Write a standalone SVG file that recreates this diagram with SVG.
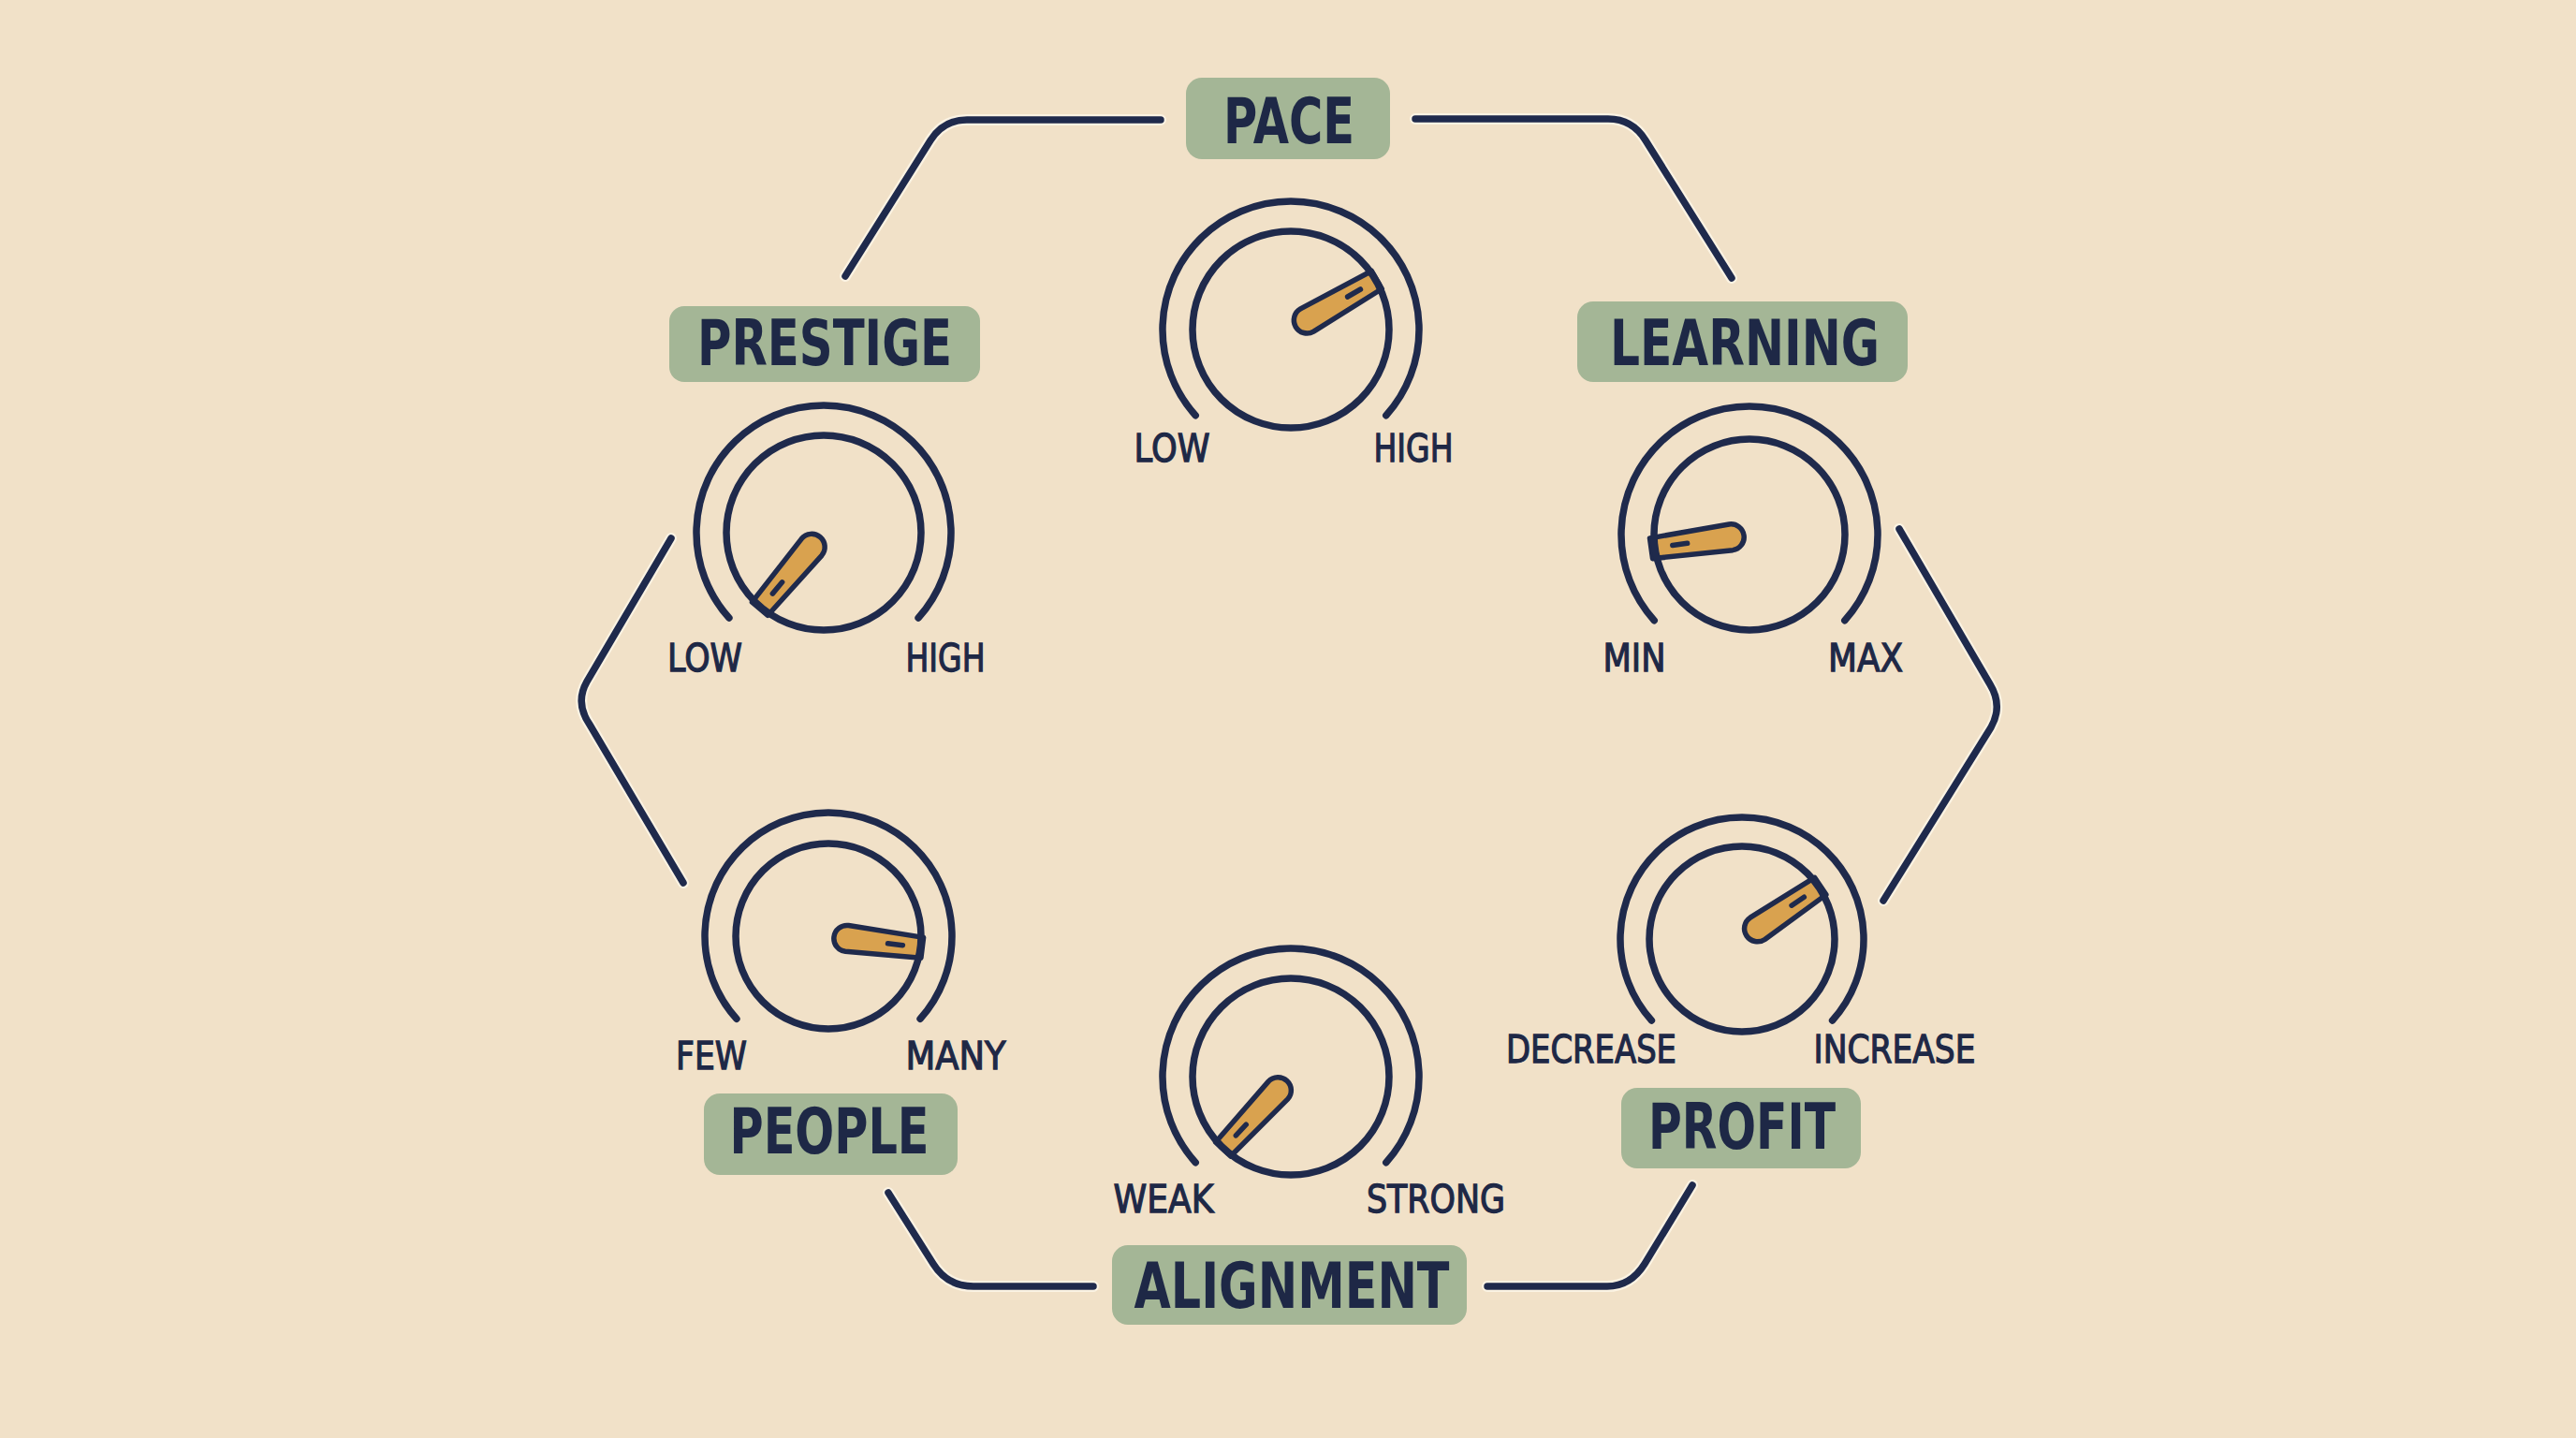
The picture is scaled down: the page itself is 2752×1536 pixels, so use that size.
<svg xmlns="http://www.w3.org/2000/svg" width="2752" height="1536" viewBox="0 0 2752 1536">
<style>
.bg{fill:#F1E1C8}
.ln{fill:none;stroke:#1F2A4C;stroke-width:7.5;stroke-linecap:round;stroke-linejoin:round}
.halo{fill:none;stroke:#FBF3E3;stroke-width:12;stroke-linecap:round;stroke-linejoin:round}
.ring{fill:none;stroke:#1F2A4C;stroke-width:7.5;stroke-linecap:round}
.ptr{fill:#D9A24F;stroke:#1F2A4C;stroke-width:5.5;stroke-linejoin:round}
.slot{stroke:#1F2A4C;stroke-width:5.5;stroke-linecap:round}
.tag{fill:#A4B696}
.big{font-family:"DejaVu Sans","Liberation Sans",sans-serif;font-weight:700;font-size:67px;fill:#1E2846;text-anchor:middle}
.sm{font-family:"DejaVu Sans","Liberation Sans",sans-serif;font-size:41px;fill:#1E2846;stroke:#1E2846;stroke-width:1.3;text-anchor:middle}
</style>
<defs>
<path id="p105" class="ptr" d="M20,-14 L106,-11 L106,11 L20,14 A14,14 0 0 1 20,-14 Z"/>
<path id="p100" class="ptr" d="M20,-14 L101,-11 L101,11 L20,14 A14,14 0 0 1 20,-14 Z"/>
</defs>
<rect class="bg" x="0" y="0" width="2752" height="1536"/>

<g id="connectors">
<path class="halo" d="M1240,128 L1033,128 Q1008,128 994,150 L903,295"/>
<path class="ln" d="M1240,128 L1033,128 Q1008,128 994,150 L903,295"/>
<path class="halo" d="M1512,127 L1718,127 Q1744,127 1758,150 L1850,297"/>
<path class="ln" d="M1512,127 L1718,127 Q1744,127 1758,150 L1850,297"/>
<path class="halo" d="M717,575 L627,728 Q614,751 630,774 L730,943"/>
<path class="ln" d="M717,575 L627,728 Q614,751 630,774 L730,943"/>
<path class="halo" d="M2029,565 L2126,731 Q2140,754 2127,777 L2012,962"/>
<path class="ln" d="M2029,565 L2126,731 Q2140,754 2127,777 L2012,962"/>
<path class="halo" d="M949,1274 L997,1350 Q1012,1374 1040,1374 L1168,1374"/>
<path class="ln" d="M949,1274 L997,1350 Q1012,1374 1040,1374 L1168,1374"/>
<path class="halo" d="M1589,1374 L1717,1374 Q1742,1374 1757,1350 L1808,1266"/>
<path class="ln" d="M1589,1374 L1717,1374 Q1742,1374 1757,1350 L1808,1266"/>
</g>

<g id="pace">
<rect class="tag" x="1267" y="83" width="218" height="87" rx="17"/>
<text class="big" x="1377" y="153" textLength="140" lengthAdjust="spacingAndGlyphs">PACE</text>
<g transform="translate(1379,352)">
<path class="ring" d="M-101.8,91.7 A137,137 0 1 1 101.8,91.7"/>
<g transform="rotate(-30)">
<use href="#p105"/>
<line class="slot" x1="70" y1="0" x2="86" y2="0"/>
</g>
<circle class="ring" cx="0" cy="0" r="105"/>
</g>
<text class="sm" x="1252" y="493" textLength="81" lengthAdjust="spacingAndGlyphs">LOW</text>
<text class="sm" x="1510" y="493" textLength="85" lengthAdjust="spacingAndGlyphs">HIGH</text>
</g>

<g id="prestige">
<rect class="tag" x="715" y="327" width="332" height="81" rx="16"/>
<text class="big" x="881" y="390" textLength="272" lengthAdjust="spacingAndGlyphs">PRESTIGE</text>
<g transform="translate(880,569)">
<path class="ring" d="M-101.1,91.0 A136,136 0 1 1 101.1,91.0"/>
<g transform="rotate(130)">
<use href="#p105"/>
<line class="slot" x1="69" y1="0" x2="85" y2="0"/>
</g>
<circle class="ring" cx="0" cy="0" r="104"/>
</g>
<text class="sm" x="753" y="717" textLength="80" lengthAdjust="spacingAndGlyphs">LOW</text>
<text class="sm" x="1010" y="717" textLength="85" lengthAdjust="spacingAndGlyphs">HIGH</text>
</g>

<g id="learning">
<rect class="tag" x="1685" y="322" width="353" height="86" rx="17"/>
<text class="big" x="1864" y="390" textLength="288" lengthAdjust="spacingAndGlyphs">LEARNING</text>
<g transform="translate(1869,571)">
<path class="ring" d="M-101.8,91.7 A137,137 0 1 1 101.8,91.7"/>
<g transform="rotate(172)">
<use href="#p105"/>
<line class="slot" x1="67" y1="0" x2="83" y2="0"/>
</g>
<circle class="ring" cx="0" cy="0" r="102"/>
</g>
<text class="sm" x="1746" y="717" textLength="67" lengthAdjust="spacingAndGlyphs">MIN</text>
<text class="sm" x="1993" y="717" textLength="80" lengthAdjust="spacingAndGlyphs">MAX</text>
</g>

<g id="people">
<g transform="translate(885,1000)">
<path class="ring" d="M-98.1,88.3 A132,132 0 1 1 98.1,88.3"/>
<g transform="rotate(7)">
<use href="#p100"/>
<line class="slot" x1="64" y1="0" x2="80" y2="0"/>
</g>
<circle class="ring" cx="0" cy="0" r="99"/>
</g>
<text class="sm" x="760" y="1142" textLength="76" lengthAdjust="spacingAndGlyphs">FEW</text>
<text class="sm" x="1021" y="1142" textLength="107" lengthAdjust="spacingAndGlyphs">MANY</text>
<rect class="tag" x="752" y="1168" width="271" height="87" rx="17"/>
<text class="big" x="886" y="1232" textLength="213" lengthAdjust="spacingAndGlyphs">PEOPLE</text>
</g>

<g id="profit">
<g transform="translate(1861,1003)">
<path class="ring" d="M-96.6,87.0 A130,130 0 1 1 96.6,87.0"/>
<g transform="rotate(-34)">
<use href="#p100"/>
<line class="slot" x1="64" y1="0" x2="80" y2="0"/>
</g>
<circle class="ring" cx="0" cy="0" r="99"/>
</g>
<text class="sm" x="1700" y="1135" textLength="182" lengthAdjust="spacingAndGlyphs">DECREASE</text>
<text class="sm" x="2024" y="1135" textLength="173" lengthAdjust="spacingAndGlyphs">INCREASE</text>
<rect class="tag" x="1732" y="1162" width="256" height="86" rx="17"/>
<text class="big" x="1861" y="1227" textLength="200" lengthAdjust="spacingAndGlyphs">PROFIT</text>
</g>

<g id="alignment">
<g transform="translate(1379,1150)">
<path class="ring" d="M-101.8,91.7 A137,137 0 1 1 101.8,91.7"/>
<g transform="rotate(133)">
<use href="#p105"/>
<line class="slot" x1="70" y1="0" x2="86" y2="0"/>
</g>
<circle class="ring" cx="0" cy="0" r="105"/>
</g>
<text class="sm" x="1243" y="1295" textLength="107" lengthAdjust="spacingAndGlyphs">WEAK</text>
<text class="sm" x="1534" y="1295" textLength="148" lengthAdjust="spacingAndGlyphs">STRONG</text>
<rect class="tag" x="1188" y="1330" width="379" height="85" rx="17"/>
<text class="big" x="1380" y="1397" textLength="337" lengthAdjust="spacingAndGlyphs">ALIGNMENT</text>
</g>
</svg>
